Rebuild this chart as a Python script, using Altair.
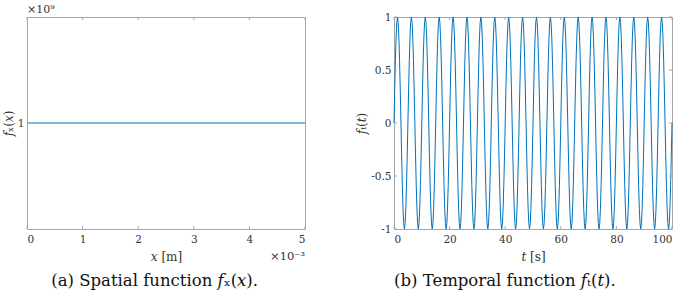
import altair as alt
import pandas as pd

# ---- data ----
x_vals = [0.0, 0.005]          # x [m]
fx_vals = [1.0, 1.0]           # f_x(x) in units of 1e9
x_ticks = [0.0, 0.001, 0.002, 0.003, 0.004, 0.005]
fx_ticks = [1.0]

t_period = 5.0                 # s (20 periods over 0..100 s)
n_periods = 20
period_shape = [0.0, 0.31, 0.59, 0.81, 0.95, 1.0, 0.95, 0.81, 0.59, 0.31,
                0.0, -0.31, -0.59, -0.81, -0.95, -1.0, -0.95, -0.81, -0.59, -0.31]
t_ticks = [0, 20, 40, 60, 80, 100]
ft_ticks = [-1.0, -0.5, 0.0, 0.5, 1.0]

W, H = 278, 212
BLUE = "#0072BD"
GRAY = "#a6a6a6"
FONT = "DejaVu Serif"
TXT = "#333333"

step = t_period / len(period_shape)
t_list, ft_list = [], []
for k in range(n_periods):
    for i, v in enumerate(period_shape):
        t_list.append(k * t_period + i * step)
        ft_list.append(v)
t_list.append(n_periods * t_period)
ft_list.append(period_shape[0])

df_x = pd.DataFrame({"x": x_vals, "f": fx_vals})
df_t = pd.DataFrame({"t": t_list, "f": ft_list})


def ticks_layers(xticks, yticks, xf, yf, xs, ys):
    dx = pd.DataFrame({xf: xticks})
    dy = pd.DataFrame({yf: yticks})
    L = []
    L.append(alt.Chart(dx).mark_rule(color=GRAY, strokeWidth=1).encode(
        x=alt.X(f"{xf}:Q", scale=xs), y=alt.value(H), y2=alt.value(H - 3)))
    L.append(alt.Chart(dx).mark_rule(color=GRAY, strokeWidth=1).encode(
        x=alt.X(f"{xf}:Q", scale=xs), y=alt.value(0), y2=alt.value(3)))
    L.append(alt.Chart(dy).mark_rule(color=GRAY, strokeWidth=1).encode(
        y=alt.Y(f"{yf}:Q", scale=ys), x=alt.value(0), x2=alt.value(3)))
    L.append(alt.Chart(dy).mark_rule(color=GRAY, strokeWidth=1).encode(
        y=alt.Y(f"{yf}:Q", scale=ys), x=alt.value(W), x2=alt.value(W - 3)))
    return L


# ---- left panel ----
xs_l = alt.Scale(domain=[0, 0.005], nice=False, zero=False)
ys_l = alt.Scale(domain=[0.5, 1.5], nice=False, zero=False)
line_l = alt.Chart(df_x).mark_line(color=BLUE, strokeWidth=1).encode(
    x=alt.X("x:Q", scale=xs_l,
            axis=alt.Axis(values=x_ticks, labelExpr="format(datum.value*1000, 'd')",
                          title="𝑥 [m]")),
    y=alt.Y("f:Q", scale=ys_l,
            axis=alt.Axis(values=fx_ticks, labelExpr="format(datum.value, 'd')",
                          title="𝑓ₓ(𝑥)")),
)
exp_top = alt.Chart(df_x.head(1)).mark_text(
    text="×10⁹", align="left", baseline="bottom", font=FONT, fontSize=11, color=TXT
).encode(x=alt.value(0), y=alt.value(-2))
exp_bot = alt.Chart(df_x.head(1)).mark_text(
    text="×10⁻³", align="right", baseline="middle", font=FONT, fontSize=11.5, color=TXT
).encode(x=alt.value(W), y=alt.value(H + 28))

CAP = dict(orient="bottom", anchor="middle", frame="bounds", offset=10,
           font=FONT, fontSize=16.5, fontWeight="normal", color="#111")

left = alt.layer(line_l, *ticks_layers(x_ticks, fx_ticks, "x", "f", xs_l, ys_l),
                 exp_top, exp_bot).properties(
    width=W, height=H,
    title=alt.TitleParams("(a) Spatial function 𝑓ₓ(𝑥).", **CAP))

# ---- right panel ----
xs_r = alt.Scale(domain=[0, 100], nice=False, zero=False)
ys_r = alt.Scale(domain=[-1, 1], nice=False, zero=False)
line_r = alt.Chart(df_t).mark_line(color=BLUE, strokeWidth=1).encode(
    x=alt.X("t:Q", scale=xs_r, axis=alt.Axis(values=t_ticks, title="𝑡 [s]")),
    y=alt.Y("f:Q", scale=ys_r,
            axis=alt.Axis(values=ft_ticks, title="𝑓ₜ(𝑡)",
                          labelExpr="replace(format(datum.value, ''), '−', '-')")),
)
right = alt.layer(line_r, *ticks_layers(t_ticks, ft_ticks, "t", "f", xs_r, ys_r)).properties(
    width=W, height=H,
    title=alt.TitleParams("(b) Temporal function 𝑓ₜ(𝑡).", dx=-10, **CAP))

chart = alt.hconcat(left, right, spacing=47).resolve_scale(x="independent", y="independent").properties(
    padding={"left": 1, "top": 3, "right": 0, "bottom": 0}
).configure_view(stroke=GRAY, strokeWidth=1).configure_axis(
    domain=False, ticks=False, grid=False,
    labelFont=FONT, labelFontSize=10.5, labelColor=TXT,
    titleFont=FONT, titleFontSize=12, titleFontWeight="normal", titleColor=TXT,
).configure_axisX(titlePadding=7, labelPadding=5).configure_axisY(titlePadding=2, labelPadding=3)

chart.save("out.html", embed_options={"renderer": "svg", "actions": False})
